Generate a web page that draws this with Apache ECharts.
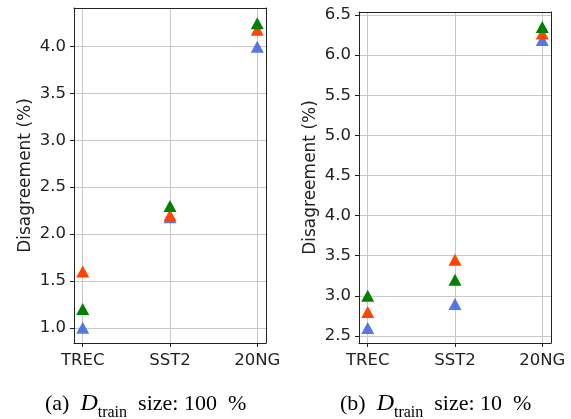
<!DOCTYPE html>
<html>
<head>
<meta charset="utf-8">
<script src="https://cdn.jsdelivr.net/npm/echarts@6/dist/echarts.min.js"></script>
<style>html,body{margin:0;padding:0;background:#fff;}#c{width:571px;height:419px;}</style>
</head>
<body>
<div id="c"></div>
<script>
const categories = ['TREC', 'SST2', '20NG'];
// Panel (a): D_train size 100 %
const a_blue = [1.0, 2.18, 4.0];
const a_orange = [1.6, 2.2, 4.18];
const a_green = [1.2, 2.3, 4.25];
const a_ticks = [1.0, 1.5, 2.0, 2.5, 3.0, 3.5, 4.0];
// Panel (b): D_train size 10 %
const b_blue = [2.6, 2.9, 6.19];
const b_orange = [2.8, 3.45, 6.27];
const b_green = [3.0, 3.2, 6.35];
const b_ticks = [2.5, 3.0, 3.5, 4.0, 4.5, 5.0, 5.5, 6.0, 6.5];

const colors = {blue: '#4169E1', orange: '#FF4500', green: '#008000'};
const font = 'DejaVu Sans';
const fs = 16.5;

function pad(vals) {
  const all = [].concat(...vals);
  const mn = Math.min(...all), mx = Math.max(...all);
  const m = (mx - mn) * 0.05;
  return [mn - m, mx + m];
}
const aRange = pad([a_blue, a_orange, a_green]);
const bRange = pad([b_blue, b_orange, b_green]);

function xAxis(gi) {
  return {
    type: 'value', gridIndex: gi, min: -0.1, max: 2.1,
    axisLine: {show: true, onZero: false, lineStyle: {color: '#222', width: 1}},
    axisTick: {show: true, length: 4, customValues: [0, 1, 2], lineStyle: {color: '#222'}},
    axisLabel: {show: true, customValues: [0, 1, 2], formatter: v => categories[Math.round(v)] || '', color: '#222', fontFamily: font, fontSize: fs, margin: 9},
    splitLine: {show: true, lineStyle: {color: '#c8c8c8', width: 1}}
  };
}
function xTop(gi) {
  return {type: 'value', gridIndex: gi, position: 'top', min: -0.1, max: 2.1,
    axisLine: {show: true, onZero: false, lineStyle: {color: '#222'}},
    axisTick: {show: false}, axisLabel: {show: false}, splitLine: {show: false}};
}
function yAxis(gi, range, ticks, gap) {
  return {
    type: 'value', gridIndex: gi, min: range[0], max: range[1],
    name: 'Disagreement (%)', nameLocation: 'middle', nameGap: gap,
    nameTextStyle: {fontFamily: font, fontSize: 17, color: '#222'},
    axisLine: {show: true, onZero: false, lineStyle: {color: '#222', width: 1}},
    axisTick: {show: true, length: 4, customValues: ticks, lineStyle: {color: '#222'}},
    axisLabel: {show: true, customValues: ticks, formatter: v => v.toFixed(1), color: '#222', fontFamily: font, fontSize: fs, margin: 8},
    splitLine: {show: true, lineStyle: {color: '#c8c8c8', width: 1}}
  };
}
function yRight(gi, range) {
  return {type: 'value', gridIndex: gi, position: 'right', min: range[0], max: range[1],
    axisLine: {show: true, onZero: false, lineStyle: {color: '#222'}},
    axisTick: {show: false}, axisLabel: {show: false}, splitLine: {show: false}};
}
function ser(xi, yi, vals, color, opacity, z) {
  return {
    type: 'scatter', xAxisIndex: xi, yAxisIndex: yi, symbol: 'triangle', symbolSize: [13, 12],
    itemStyle: {color: color, opacity: opacity}, z: z,
    data: vals.map((v, i) => [i, v])
  };
}

const chart = echarts.init(document.getElementById('c'), null, {renderer: 'canvas'});
const capRich = {
  n: {fontFamily: 'Liberation Serif', fontSize: 22, color: '#000', lineHeight: 26},
  d: {fontFamily: 'Liberation Serif', fontSize: 24, fontStyle: 'italic', color: '#000', lineHeight: 26},
  s: {fontFamily: 'Liberation Serif', fontSize: 16, color: '#000', lineHeight: 26, verticalAlign: 'bottom', padding: [0, 0, -4, 0]}
};
chart.setOption({
  animation: false,
  grid: [
    {left: 74, right: 305, top: 8, bottom: 76},
    {left: 359, right: 20, top: 12, bottom: 76}
  ],
  xAxis: [xAxis(0), xAxis(1), xTop(0), xTop(1)],
  yAxis: [yAxis(0, aRange, a_ticks, 40), yAxis(1, bRange, b_ticks, 40), yRight(0, aRange), yRight(1, bRange)],
  series: [
    ser(0, 0, a_blue, colors.blue, 0.9, 3),
    ser(0, 0, a_orange, colors.orange, 1, 4),
    ser(0, 0, a_green, colors.green, 1, 5),
    ser(1, 1, b_blue, colors.blue, 0.9, 3),
    ser(1, 1, b_orange, colors.orange, 1, 4),
    ser(1, 1, b_green, colors.green, 1, 5)
  ],
  graphic: [
    {type: 'text', left: 45, top: 392, style: {text: '{n|(a)  }{d|D}{s|train}{n|  size: 100  %}', rich: capRich}},
    {type: 'text', left: 340, top: 392, style: {text: '{n|(b)  }{d|D}{s|train}{n|  size: 10  %}', rich: capRich}}
  ]
});
</script>
</body>
</html>
